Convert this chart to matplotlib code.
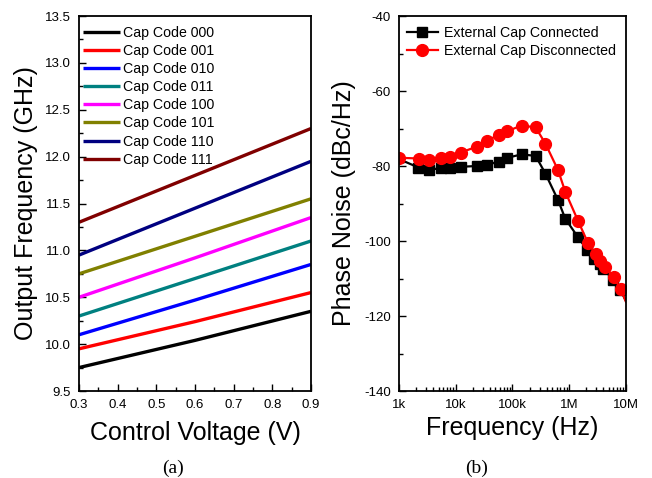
import matplotlib
matplotlib.use("Agg")
import matplotlib.pyplot as plt
from matplotlib.ticker import MultipleLocator, FixedLocator, LogLocator, NullFormatter

plt.rcParams['font.family'] = ['Liberation Sans', 'DejaVu Sans']
plt.rcParams['axes.unicode_minus'] = False

# ---- Panel (a) data ----
vctrl = [0.3, 0.6, 0.9]
cap_labels = ["Cap Code 000", "Cap Code 001", "Cap Code 010", "Cap Code 011",
              "Cap Code 100", "Cap Code 101", "Cap Code 110", "Cap Code 111"]
cap_freqs = [
    [9.75, 10.04, 10.35],
    [9.95, 10.24, 10.55],
    [10.10, 10.47, 10.85],
    [10.30, 10.70, 11.10],
    [10.50, 10.92, 11.35],
    [10.75, 11.15, 11.55],
    [10.95, 11.45, 11.95],
    [11.30, 11.80, 12.30],
]
cap_colors = ["#000000", "#ff0000", "#0000ff", "#008080",
              "#ff00ff", "#808000", "#000080", "#800000"]

# ---- Panel (b) data ----
f_conn = [1.0e3, 1.3e3, 2.2e3, 3.4e3, 5.4e3, 7.8e3, 12.2e3, 24e3, 36e3, 57e3, 81e3,
          145e3, 256e3, 380e3, 636e3, 850e3, 1.43e6, 2.1e6, 2.78e6, 3.5e6, 4.0e6,
          6.0e6, 8.0e6, 10e6]
pn_conn = [-79.3, -78.9, -80.4, -81.1, -80.5, -80.6, -80.2, -80.0, -79.7, -78.8, -77.8,
           -76.9, -77.3, -82.0, -89.1, -94.0, -99.0, -102.5, -104.7, -106.2, -107.5,
           -110.3, -113.0, -116.0]
f_disc = [1.0e3, 2.25e3, 3.4e3, 5.4e3, 7.9e3, 12.2e3, 24e3, 36e3, 57e3, 81e3, 145e3,
          256e3, 380e3, 636e3, 850e3, 1.43e6, 2.14e6, 2.95e6, 3.55e6, 4.3e6, 6.1e6,
          8.1e6, 10e6]
pn_disc = [-77.8, -78.0, -78.4, -77.8, -77.5, -76.4, -74.8, -73.2, -71.7, -70.7, -69.2,
           -69.7, -74.0, -81.1, -86.8, -94.6, -100.5, -103.5, -105.3, -106.8, -109.7,
           -112.8, -116.2]

fig = plt.figure(figsize=(6.52, 4.78), dpi=100)

TICK_FS = 9.5
LABEL_FS = 18
LEG_FS = 10.2

# ---- Panel (a) ----
ax1 = fig.add_axes([0.1212, 0.182, 0.3558, 0.7845])
for lab, ys, c in zip(cap_labels, cap_freqs, cap_colors):
    ax1.plot(vctrl, ys, color=c, lw=2.4, label=lab, solid_capstyle='butt')
ax1.set_xlim(0.3, 0.9)
ax1.set_ylim(9.5, 13.5)
ax1.xaxis.set_major_locator(MultipleLocator(0.1))
ax1.xaxis.set_minor_locator(MultipleLocator(0.05))
ax1.yaxis.set_major_locator(MultipleLocator(0.5))
ax1.yaxis.set_minor_locator(MultipleLocator(0.25))
ax1.tick_params(which='both', direction='in', top=False, right=False, labelsize=TICK_FS, width=1.0)
ax1.tick_params(which='major', length=5)
ax1.tick_params(axis='x', which='major', pad=6)
ax1.tick_params(axis='y', which='major', pad=6)
ax1.tick_params(which='minor', length=3)
ax1.set_xlabel("Control Voltage (V)", fontsize=LABEL_FS, labelpad=7)
ax1.set_ylabel("Output Frequency (GHz)", fontsize=LABEL_FS)
ax1.yaxis.set_label_coords(-0.178, 0.5)
for s in ax1.spines.values():
    s.set_linewidth(1.3)
ax1.legend(loc='upper left', bbox_to_anchor=(0.0, 0.985), frameon=False, fontsize=LEG_FS,
           handlelength=2.6, handletextpad=0.2, labelspacing=0.29, borderaxespad=0.0,
           borderpad=0.3)
fig.text(173 / 652, 1 - 468 / 478, "(a)", family=['Liberation Serif'], fontsize=14,
         ha='center', va='center')

# ---- Panel (b) ----
ax2 = fig.add_axes([0.612, 0.182, 0.348, 0.7845])
ax2.plot(f_conn, pn_conn, color='black', lw=1.6, marker='s', markersize=7,
         markevery=list(range(2, len(f_conn) - 1)), label="External Cap Connected")
ax2.plot(f_disc, pn_disc, color='#ff0000', lw=1.6, marker='o', markersize=8.5,
         markevery=list(range(0, len(f_disc) - 1)), label="External Cap Disconnected")
ax2.set_xscale('log')
ax2.set_xlim(1e3, 1e7)
ax2.set_ylim(-140, -40)
ax2.xaxis.set_major_locator(FixedLocator([1e3, 1e4, 1e5, 1e6, 1e7]))
ax2.set_xticklabels(["1k", "10k", "100k", "1M", "10M"])
ax2.xaxis.set_minor_locator(LogLocator(base=10, subs=range(2, 10), numticks=20))
ax2.xaxis.set_minor_formatter(NullFormatter())
ax2.yaxis.set_major_locator(MultipleLocator(20))
ax2.yaxis.set_minor_locator(MultipleLocator(10))
ax2.tick_params(which='both', direction='in', top=False, right=False, labelsize=TICK_FS, width=1.0)
ax2.tick_params(which='major', length=5, pad=6)
ax2.tick_params(which='minor', length=3)
ax2.set_xlabel("Frequency (Hz)", fontsize=LABEL_FS, labelpad=3)
ax2.set_ylabel("Phase Noise (dBc/Hz)", fontsize=LABEL_FS)
ax2.yaxis.set_label_coords(-0.19, 0.5)
for s in ax2.spines.values():
    s.set_linewidth(1.3)
ax2.legend(loc='upper left', bbox_to_anchor=(0.016, 0.986), frameon=False, fontsize=LEG_FS,
           handlelength=2.2, handletextpad=0.45, labelspacing=0.3, borderaxespad=0.0,
           borderpad=0.3)
fig.text(477 / 652, 1 - 468 / 478, "(b)", family=['Liberation Serif'], fontsize=14,
         ha='center', va='center')

fig.savefig("out.png", dpi=100)
